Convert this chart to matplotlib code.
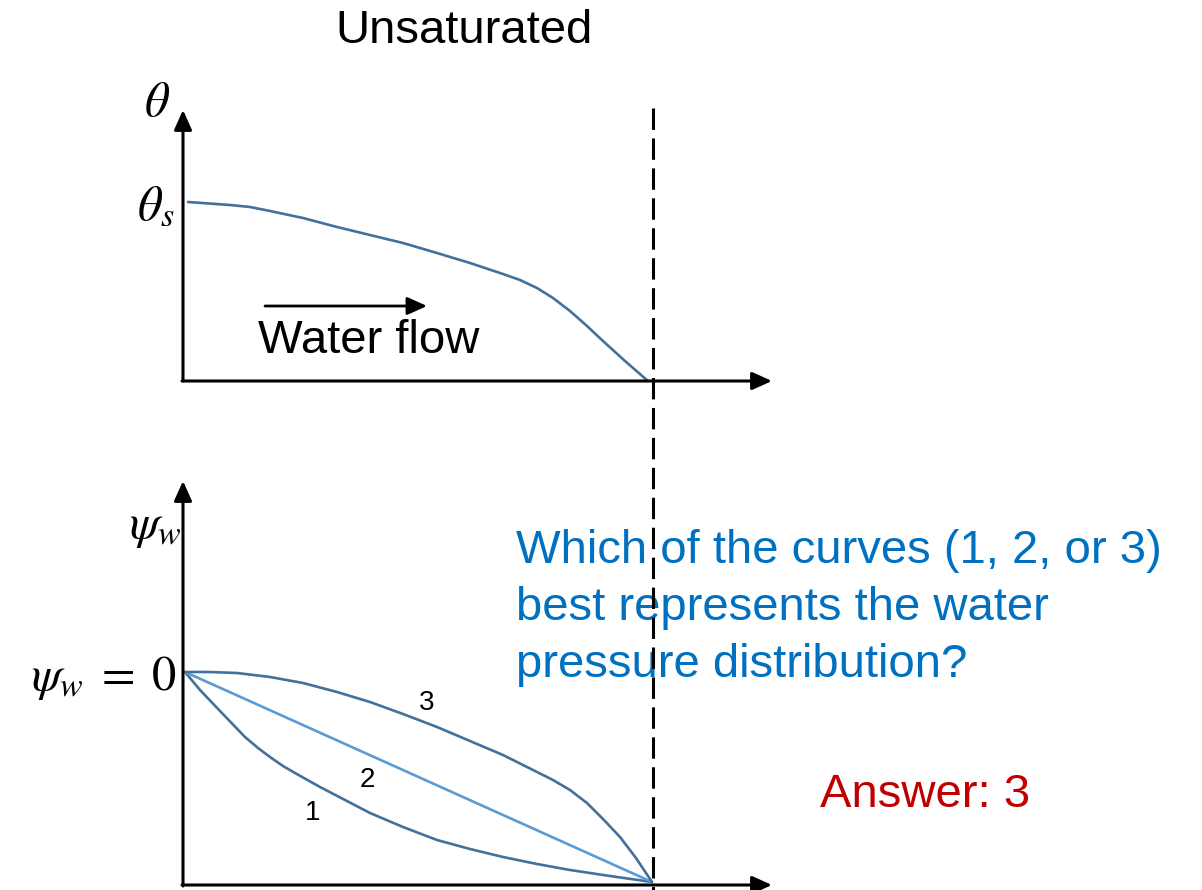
import numpy as np
import matplotlib.pyplot as plt

plt.rcParams['font.family'] = ['Liberation Sans', 'DejaVu Sans']
plt.rcParams['mathtext.fontset'] = 'stix'

# canvas coordinates (pixels, y pointing down)
theta_x = [188, 230, 250, 270, 303, 337, 370, 403, 437, 470, 503, 520, 537, 553, 570, 587, 603, 625, 648]
theta_y = [202, 205, 207, 211, 218, 227, 235, 243, 253, 263, 274, 280, 288, 298, 311, 326, 341, 361, 381]

curve1_x = [185, 200, 220, 245, 258, 270, 283, 295, 320, 345, 370, 403, 437, 470, 503, 537, 570, 610, 652]
curve1_y = [672, 690, 711, 737, 748, 757, 766, 773, 787, 800, 813, 827, 840, 849, 857, 864, 870, 876, 882]

curve2_x = [185, 652]
curve2_y = [672, 882]

curve3_x = [185, 210, 237, 270, 303, 337, 370, 403, 437, 470, 503, 537, 553, 570, 587, 603, 620, 636, 652]
curve3_y = [672, 672, 673, 677, 683, 692, 702, 714, 727, 741, 755, 772, 780, 790, 803, 819, 837, 858, 882]

curve_labels = ["1", "2", "3"]
label_pos = [(313, 813), (367, 780), (427, 703)]

question = ["Which of the curves (1, 2, or 3)",
            "best represents the water",
            "pressure distribution?"]

dark_blue = '#41719C'
light_blue = '#5B9BD5'

fig = plt.figure(figsize=(12.02, 8.9), dpi=100)
ax = fig.add_axes([0, 0, 1, 1])
ax.set_xlim(0, 1202)
ax.set_ylim(890, 0)
ax.axis('off')

arrow = dict(arrowstyle='-|>,head_length=0.6,head_width=0.27', lw=2.2,
             color='black', mutation_scale=20, shrinkA=0, shrinkB=0)

# upper panel axes
ax.annotate('', xy=(183, 110), xytext=(183, 381), arrowprops=arrow)
ax.annotate('', xy=(772, 381), xytext=(182, 381), arrowprops=arrow)
# lower panel axes
ax.annotate('', xy=(183, 481), xytext=(183, 886), arrowprops=arrow)
ax.annotate('', xy=(772, 885), xytext=(182, 885), arrowprops=arrow)

# water flow arrow
ax.annotate('', xy=(427, 306), xytext=(265, 306),
            arrowprops=dict(arrowstyle='-|>,head_length=0.6,head_width=0.27', lw=2.0,
                            color='black', mutation_scale=20, shrinkA=0, shrinkB=0))

for xs, ys, c in [(theta_x, theta_y, dark_blue), (curve1_x, curve1_y, dark_blue),
                  (curve2_x, curve2_y, light_blue), (curve3_x, curve3_y, dark_blue)]:
    ax.plot(xs, ys, color=c, lw=1.9, solid_capstyle='round', solid_joinstyle='round')

for lab, (x, y) in zip(curve_labels, label_pos):
    ax.text(x, y, lab, fontsize=20, ha='center', va='center')

# labels
ax.text(335, 43, "Unsaturated", fontsize=34, ha='left', va='baseline')
ax.text(258, 353, "Water flow", fontsize=34, ha='left', va='baseline')
ax.text(170, 116, r"$\theta$", fontsize=35, ha='right', va='baseline')
ax.text(175, 219, r"$\theta_s$", fontsize=35, ha='right', va='baseline')
ax.text(181, 538, r"$\psi_w$", fontsize=35, ha='right', va='baseline')
ax.text(176, 690, r"$\psi_w\;=\;0$", fontsize=35, ha='right', va='baseline')

for i, line in enumerate(question):
    ax.text(516, 563 + 57 * i, line, fontsize=34, color='#0070C0', ha='left', va='baseline')

ax.text(820, 807, "Answer: 3", fontsize=34, color='#C00000', ha='left', va='baseline')

# dashed divider, drawn over the text
ax.plot([653, 653], [108, 890], color='black', lw=2.2, linestyle=(0, (7.0, 2.8)), zorder=5)

fig.savefig('out.png', dpi=100)
